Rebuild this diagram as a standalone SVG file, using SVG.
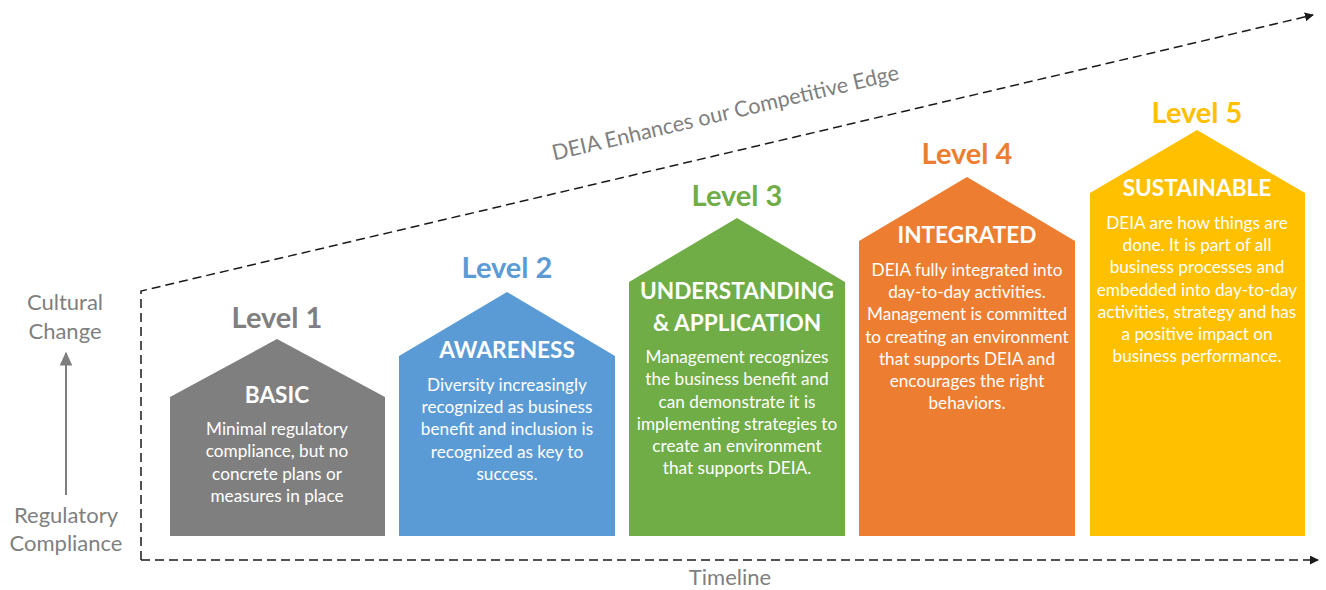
<svg xmlns="http://www.w3.org/2000/svg" width="1326" height="590" viewBox="0 0 1326 590">
<style>
text{font-family:Lato,"Liberation Sans",sans-serif;text-anchor:middle}
.lvl{font-size:29px;font-weight:bold}
.ttl{font-size:22.6px;font-weight:bold;fill:#fff}
.body{font-size:17.2px;fill:#fff}
.axis{font-size:22px;fill:#7f7f7f}
.dash{fill:none;stroke:#1a1a1a;stroke-width:1.5;stroke-dasharray:9 5}
</style>
<defs>
<marker id="ah" viewBox="0 0 10 10" refX="9" refY="5" markerWidth="9" markerHeight="9" markerUnits="userSpaceOnUse" orient="auto"><path d="M0,0L10,5L0,10z" fill="#1a1a1a"/></marker>
<marker id="ahg" viewBox="0 0 10 10" refX="9" refY="5" markerWidth="14" markerHeight="14" markerUnits="userSpaceOnUse" orient="auto"><path d="M0,0.5L10,5L0,9.5z" fill="#7f7f7f"/></marker>
</defs>
<rect width="1326" height="590" fill="#fff"/>
<g id="connectors">
<path class="dash" d="M141,560V291L1313,15" marker-end="url(#ah)"/>
<path class="dash" d="M141,560H1318" marker-end="url(#ah)"/>
<line x1="66" y1="495" x2="66" y2="353" stroke="#7f7f7f" stroke-width="2" marker-end="url(#ahg)"/>
</g>
<g id="axis-labels">
<text class="axis" x="65" y="310">Cultural</text>
<text class="axis" x="65" y="339">Change</text>
<text class="axis" x="66" y="523">Regulatory</text>
<text class="axis" x="66" y="551">Compliance</text>
<text class="axis" x="730" y="585">Timeline</text>
<text class="axis" transform="translate(727,120) rotate(-13.2)" style="font-size:21.6px">DEIA Enhances our Competitive Edge</text>
</g>
<g id="level1">
<path d="M170,397L277,339L385,397V536H170z" fill="#7f7f7f"/>
<text class="lvl" x="277" y="328" fill="#7f7f7f">Level 1</text>
<text class="ttl" x="277" y="403">BASIC</text>
<text class="body" x="277" y="435">Minimal regulatory</text>
<text class="body" x="277" y="457">compliance, but no</text>
<text class="body" x="277" y="480">concrete plans or</text>
<text class="body" x="277" y="502">measures in place</text>
</g>
<g id="level2">
<path d="M399,356L507,292L615,356V536H399z" fill="#5b9bd5"/>
<text class="lvl" x="507" y="278" fill="#5b9bd5">Level 2</text>
<text class="ttl" x="507" y="358">AWARENESS</text>
<text class="body" x="507" y="391">Diversity increasingly</text>
<text class="body" x="507" y="413">recognized as business</text>
<text class="body" x="507" y="435">benefit and inclusion is</text>
<text class="body" x="507" y="458">recognized as key to</text>
<text class="body" x="507" y="480">success.</text>
</g>
<g id="level3">
<path d="M629,282L737,218L845,282V536H629z" fill="#70ad47"/>
<text class="lvl" x="737" y="206" fill="#70ad47">Level 3</text>
<text class="ttl" x="737" y="299">UNDERSTANDING</text>
<text class="ttl" x="737" y="331">&amp; APPLICATION</text>
<text class="body" x="737" y="363">Management recognizes</text>
<text class="body" x="737" y="385">the business benefit and</text>
<text class="body" x="737" y="408">can demonstrate it is</text>
<text class="body" x="737" y="430">implementing strategies to</text>
<text class="body" x="737" y="452">create an environment</text>
<text class="body" x="737" y="474">that supports DEIA.</text>
</g>
<g id="level4">
<path d="M859,241L967,177L1075,241V536H859z" fill="#ed7d31"/>
<text class="lvl" x="967" y="164" fill="#ed7d31">Level 4</text>
<text class="ttl" x="967" y="243">INTEGRATED</text>
<text class="body" x="967" y="276">DEIA fully integrated into</text>
<text class="body" x="967" y="298">day-to-day activities.</text>
<text class="body" x="967" y="320">Management is committed</text>
<text class="body" x="967" y="343">to creating an environment</text>
<text class="body" x="967" y="365">that supports DEIA and</text>
<text class="body" x="967" y="387">encourages the right</text>
<text class="body" x="967" y="409">behaviors.</text>
</g>
<g id="level5">
<path d="M1090,193L1197,130L1305,193V536H1090z" fill="#ffc000"/>
<text class="lvl" x="1197" y="123" fill="#ffc000">Level 5</text>
<text class="ttl" x="1197" y="196">SUSTAINABLE</text>
<text class="body" x="1197" y="229">DEIA are how things are</text>
<text class="body" x="1197" y="251">done. It is part of all</text>
<text class="body" x="1197" y="273">business processes and</text>
<text class="body" x="1197" y="296">embedded into day-to-day</text>
<text class="body" x="1197" y="318">activities, strategy and has</text>
<text class="body" x="1197" y="340">a positive impact on</text>
<text class="body" x="1197" y="362">business performance.</text>
</g>
</svg>
